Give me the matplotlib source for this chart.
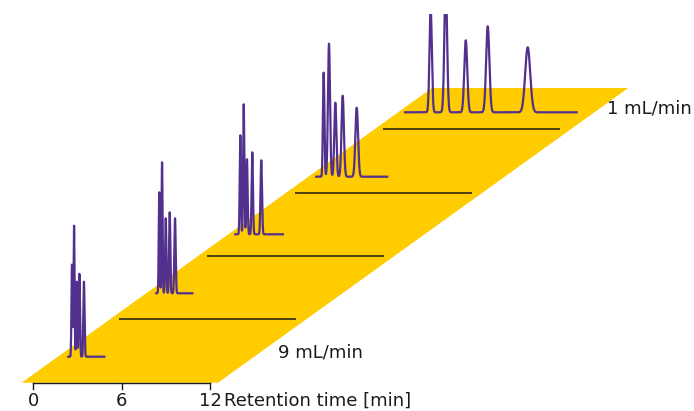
import numpy as np
import matplotlib.pyplot as plt

# ---------------------------------------------------------------------------
# Data, rows from bottom (9 mL/min) to top (1 mL/min)
# ---------------------------------------------------------------------------

row_flows = ["9 mL/min", "7 mL/min", "5 mL/min", "3 mL/min", "1 mL/min"]
shown_flows = ["9 mL/min", "1 mL/min"]

# retention times of the five peaks [min]
peak_times = [
    [0.25, 0.39, 0.57, 0.75, 1.06],
    [0.20, 0.39, 0.64, 0.91, 1.27],
    [0.34, 0.57, 0.79, 1.15, 1.76],
    [0.50, 0.86, 1.29, 1.79, 2.74],
    [1.74, 2.76, 4.12, 5.61, 8.32],
]
# peak heights [a.u.]
peak_heights = [
    [92, 131, 75, 83, 75],
    [101, 131, 75, 81, 75],
    [99, 130, 75, 82, 74],
    [104, 133, 74, 81, 69],
    [104, 133, 72, 86, 65],
]
# peak widths (sigma) [min]
peak_sigmas = [
    [0.035, 0.035, 0.035, 0.04, 0.04],
    [0.035, 0.035, 0.04, 0.04, 0.045],
    [0.04, 0.04, 0.045, 0.045, 0.05],
    [0.05, 0.07, 0.07, 0.08, 0.09],
    [0.08, 0.09, 0.10, 0.11, 0.17],
]
# length of each recorded run [min]
run_ends = [2.44, 2.44, 3.23, 4.81, 11.64]

time_ticks = [0, 6, 12]
axis_label = "Retention time [min]"

# ---------------------------------------------------------------------------
# Layout (pixel space of a 694x411 figure)
# ---------------------------------------------------------------------------

PX_PER_MIN = 14.75
AXIS_X0, AXIS_Y = 33.3, 382.7
ROW_DX, ROW_DY = 88.0, 63.4
PLANE_LEFT, PLANE_RIGHT, PLANE_TOP = 21.7, 218.0, 88.0
PLANE_SLOPE = 1.392
TRACE_ORIGINS = [(68.3, 356.7), (156.3, 293.3), (235.3, 234.3),
                 (316.3, 176.7), (405.0, 112.3)]

YELLOW = "#ffcc00"
PURPLE = "#52308e"
INK = "#1a1a1a"

fig = plt.figure(figsize=(6.94, 4.11), dpi=100)
# top 14 px stay outside the axes so the tallest peaks are cut there
ax = fig.add_axes([0, 0, 1, 397 / 411])
ax.set_xlim(0, 694)
ax.set_ylim(411, 14)
ax.axis("off")

# yellow plane
depth = (AXIS_Y - PLANE_TOP) * PLANE_SLOPE
plane = plt.Polygon(
    [(PLANE_LEFT, AXIS_Y), (PLANE_RIGHT, AXIS_Y),
     (PLANE_RIGHT + depth, PLANE_TOP), (PLANE_LEFT + depth, PLANE_TOP)],
    closed=True, facecolor=YELLOW, edgecolor="none", zorder=1)
ax.add_patch(plane)

# time axis lines of the back rows
for k in range(1, len(row_flows)):
    x0 = AXIS_X0 - 2.0 + ROW_DX * k
    y0 = AXIS_Y - ROW_DY * k
    ax.plot([x0, x0 + 12 * PX_PER_MIN], [y0, y0], color=INK, lw=1.1,
            solid_capstyle="butt", zorder=2)

# chromatograms
for k in range(len(row_flows)):
    t = np.linspace(0, run_ends[k], 3000)
    sig = np.zeros_like(t)
    for rt, h, s in zip(peak_times[k], peak_heights[k], peak_sigmas[k]):
        sig += h * np.exp(-0.5 * ((t - rt) / s) ** 2)
    x0, y0 = TRACE_ORIGINS[k]
    ax.plot(x0 + t * PX_PER_MIN, y0 - sig, color=PURPLE, lw=1.6,
            solid_joinstyle="round", zorder=3)

# front time axis
ax.plot([AXIS_X0, AXIS_X0 + 12 * PX_PER_MIN], [AXIS_Y, AXIS_Y],
        color=INK, lw=1.0, zorder=4)
for tk in time_ticks:
    x = AXIS_X0 + tk * PX_PER_MIN
    ax.plot([x, x], [AXIS_Y, AXIS_Y + 6], color=INK, lw=1.0, zorder=4)
    ax.text(x, 401, str(tk), ha="center", va="center", fontsize=13,
            color=INK)
ax.text(224, 401, axis_label, ha="left", va="center", fontsize=13, color=INK)

# flow labels
ax.text(278, 352, shown_flows[0], ha="left", va="center", fontsize=13,
        color=INK)
ax.text(607, 108, shown_flows[1], ha="left", va="center", fontsize=13,
        color=INK)

fig.savefig("out.png", dpi=100)
